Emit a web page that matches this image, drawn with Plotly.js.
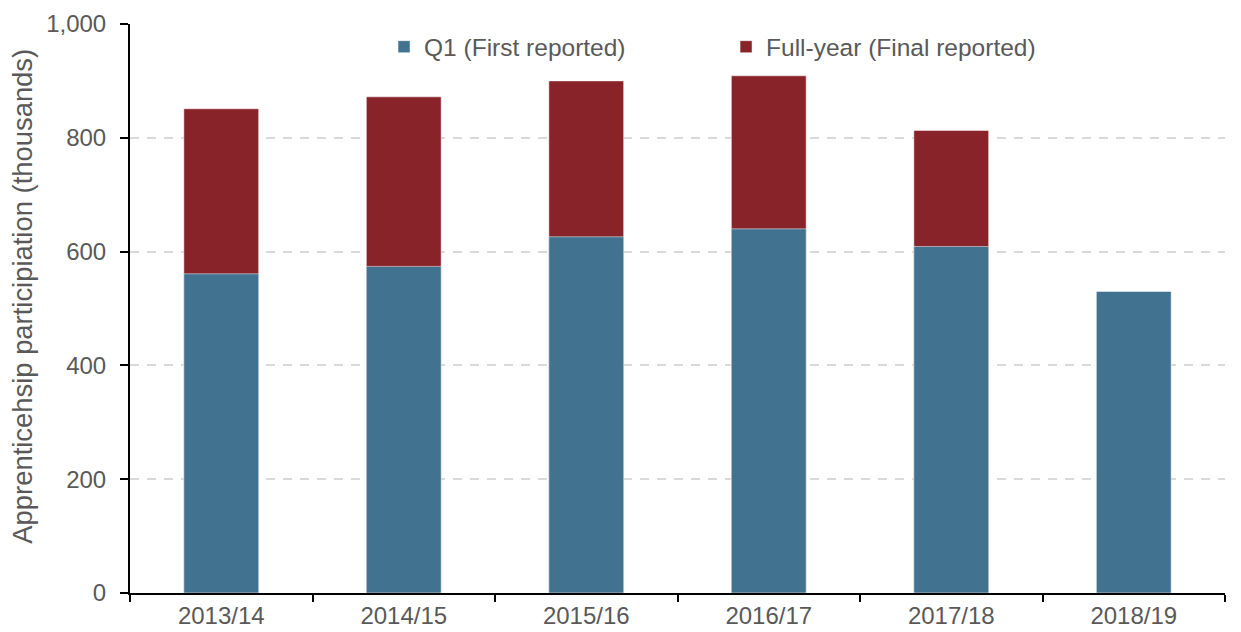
<!DOCTYPE html>
<html>
<head>
<meta charset="utf-8">
<script src="https://cdn.plot.ly/plotly-3.0.1.min.js"></script>
<style>html,body{margin:0;padding:0;background:#fff;}#chart{width:1241px;height:632px;}</style>
</head>
<body>
<div id="chart"></div>
<script>
const years = ["2013/14", "2014/15", "2015/16", "2016/17", "2017/18", "2018/19"];
const q1First = [561, 574, 626, 640, 609, 530];
const fullYearFinal = [851, 872, 900, 909, 813, null];
const yTicks = [0, 200, 400, 600, 800, 1000];
const yTickLabels = ["0", "200", "400", "600", "800", "1,000"];
const yTitle = "Apprenticehsip participiation (thousands)";

const fam = "Liberation Sans, Arial, sans-serif";
const grey = "#595959";

const traces = [
  {
    type: "bar", name: "Full-year (Final reported)", x: years, y: fullYearFinal,
    marker: {color: "#88232A", line: {color: "rgba(255,255,255,0.5)", width: 1}},
    legendrank: 2, hoverinfo: "y"
  },
  {
    type: "bar", name: "Q1 (First reported)", x: years, y: q1First,
    marker: {color: "#41728F", line: {color: "rgba(255,255,255,0.5)", width: 1}},
    legendrank: 1, hoverinfo: "y"
  }
];

const layout = {
  width: 1241, height: 632,
  margin: {l: 130, r: 16, t: 24, b: 39},
  paper_bgcolor: "#fff", plot_bgcolor: "#fff",
  barmode: "overlay", bargap: 0.59,
  font: {family: fam, color: grey},
  showlegend: true,
  legend: {
    orientation: "h", x: 0.232, y: 0.96, xanchor: "left", yanchor: "middle",
    font: {family: fam, size: 24.5, color: grey},
    itemwidth: 30, entrywidth: 297, bgcolor: "rgba(0,0,0,0)",
    traceorder: "normal"
  },
  xaxis: {
    type: "category", showline: true, linecolor: "#000", linewidth: 2,
    ticks: "outside", tickson: "boundaries", ticklen: 7, tickwidth: 2, tickcolor: "#000",
    tickfont: {family: fam, size: 24, color: grey},
    showgrid: false, zeroline: false
  },
  yaxis: {
    range: [0, 1000], tickvals: yTicks, ticktext: yTickLabels,
    showline: true, linecolor: "#000", linewidth: 2,
    ticks: "outside", ticklen: 8, tickwidth: 2, tickcolor: "#000",
    ticklabelstandoff: 9,
    tickfont: {family: fam, size: 24, color: grey},
    showgrid: true, gridcolor: "#D9D9D9", gridwidth: 2, griddash: "9px,8px",
    zeroline: false
  },
  annotations: [{
    text: yTitle, textangle: -90, showarrow: false,
    xref: "paper", yref: "paper", x: -0.098, y: 0.522, xanchor: "center", yanchor: "middle",
    font: {family: fam, size: 27.4, color: grey}
  }]
};

Plotly.newPlot("chart", traces, layout, {displayModeBar: false, staticPlot: true});
</script>
</body>
</html>
